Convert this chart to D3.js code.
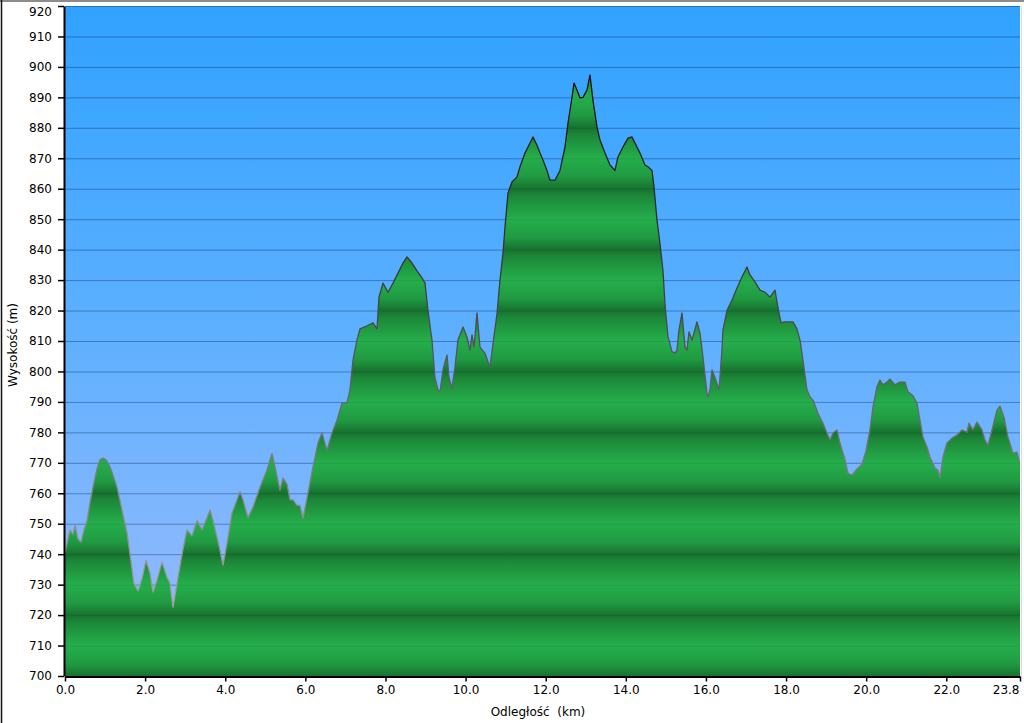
<!DOCTYPE html>
<html><head><meta charset="utf-8">
<script src="https://cdn.jsdelivr.net/npm/d3@7"></script>
<style>
body{margin:0;background:#fff;}
svg{display:block;font-family:"DejaVu Sans",Verdana,sans-serif;}
</style>
</head><body>
<svg id="c" width="1024" height="723"></svg>
<script>
// ---- data ----
const distKm = [
0,0.075,0.125,0.2,0.25,0.325,0.4,0.474,0.549,0.624,
0.699,0.799,0.874,0.949,1.023,1.123,1.198,1.298,1.423,1.548,
1.623,1.722,1.822,1.922,2.022,2.122,2.197,2.297,2.421,2.546,
2.621,2.696,2.796,2.921,3.045,3.170,3.295,3.420,3.545,3.620,
3.694,3.794,3.869,3.944,4.044,4.169,4.294,4.369,4.443,4.568,
4.693,4.868,5.042,5.167,5.242,5.367,5.442,5.542,5.617,5.692,
5.791,5.866,5.941,6.041,6.191,6.316,6.415,6.540,6.665,6.790,
6.915,7.040,7.114,7.189,7.289,7.364,7.539,7.688,7.788,7.838,
7.938,8.063,8.188,8.313,8.437,8.537,8.662,8.787,8.912,8.987,
9.061,9.161,9.236,9.311,9.361,9.436,9.536,9.586,9.661,9.735,
9.810,9.935,10.035,10.110,10.160,10.210,10.285,10.359,10.484,10.609,
10.684,10.784,10.859,10.934,10.984,11.059,11.158,11.283,11.358,11.483,
11.608,11.683,11.782,11.857,11.932,12.032,12.107,12.232,12.357,12.481,
12.556,12.656,12.706,12.781,12.856,12.931,13.030,13.105,13.180,13.280,
13.355,13.480,13.605,13.729,13.804,13.929,14.054,14.154,14.229,14.353,
14.478,14.553,14.653,14.703,14.778,14.853,14.928,14.978,15.052,15.152,
15.227,15.277,15.327,15.402,15.477,15.527,15.577,15.652,15.776,15.851,
15.926,16.026,16.051,16.101,16.151,16.226,16.276,16.326,16.400,16.425,
16.525,16.650,16.775,16.900,17.024,17.099,17.224,17.349,17.474,17.599,
17.723,17.798,17.873,17.973,18.173,18.273,18.348,18.422,18.522,18.597,
18.672,18.797,18.922,19.021,19.096,19.171,19.271,19.346,19.471,19.546,
19.646,19.770,19.895,19.995,20.095,20.170,20.270,20.345,20.419,20.519,
20.594,20.719,20.844,20.969,21.044,21.169,21.268,21.343,21.418,21.518,
21.593,21.718,21.792,21.842,21.917,22.017,22.142,22.267,22.391,22.516,
22.566,22.666,22.766,22.891,22.966,23.040,23.140,23.265,23.340,23.440,
23.540,23.665,23.765,23.840
];
const elevM = [
740.4,745,747.9,746.5,749.5,745,744,748,751,757,
762,768,771,771.6,771,768.7,766,762,754.5,747,
740,730.5,728,732,738,733.8,727.6,731.5,737.4,732.5,
730.5,722.6,730.5,740,748,746,751,748,752,754.5,
751,745.6,741.4,736.4,743.6,753.5,757.8,760.4,757.8,752,
755.5,762,767.6,773,768.7,761,765,763,757.8,757.8,
756,756,751.8,758.5,768.7,776.5,779.8,774,779.8,784,
789.6,789.6,794,803.7,810.3,814,815,816,814,824.4,
829,826,829,832.3,835.6,837.6,835.6,833,830.7,829,
820,810.3,798,794,793.3,800.5,805.4,798,794.5,801.5,
810.3,814.6,811.3,807,812,808,819.2,808,806,801.5,
809,819,830,838.9,847.4,858.6,862.2,863.9,867.2,871.7,
875,877,874.3,871.7,869.4,866,862.8,862.8,866,873.7,
881.5,890,894.7,892.4,889.8,890,892.4,897.3,889,880.3,
876,871.7,867.8,866,870.4,873.7,876.6,877,875,871.7,
867.8,867.2,866,860.6,849.7,842,833,822,811.5,806.5,
806,807,813.6,819.2,808,807,813,810.3,816.3,812.6,
804.7,793,791.3,794,800.5,798,796,794,807,813.6,
820,823.4,827.4,831,834.3,831.7,829.4,826.7,826,824.4,
826.7,821,816,816.3,816.3,814,810.3,803.7,794,791.6,
790.6,786.3,783,779.8,777.5,779.8,780.8,776.5,771,766.6,
766,768,769.5,774,781,788.3,795,797.2,795.6,796.5,
797.5,795.6,796.5,796.5,793.3,792,789.6,784,778.5,775.2,
771.9,768.3,767.6,765.3,771.9,776.5,778.1,779.1,780.8,780,
783,780.8,783.4,780.8,777.5,775.8,780.8,787.3,788.6,785,
778.5,773.2,773.5,770
];
const xTickValues = [0,2,4,6,8,10,12,14,16,18,20,22,23.84];
const xTickLabels = ["0.0","2.0","4.0","6.0","8.0","10.0","12.0","14.0","16.0","18.0","20.0","22.0","23.8"];
const yTickValues = [700,710,720,730,740,750,760,770,780,790,800,810,820,830,840,850,860,870,880,890,900,910,920];
const xAxisTitle = "Odległość  (km)";
const yAxisTitle = "Wysokość (m)";

// ---- layout ----
const L = 65, R = 1020, T = 6, B = 676;
const svg = d3.select("#c");
const x = d3.scaleLinear().domain([0, 23.84]).range([L, R]);
const y = d3.scaleLinear().domain([700, 920]).range([B, T]);
const data = distKm.map((k, i) => ({k, e: elevM[i]}));

const defs = svg.append("defs");
const bg = defs.append("linearGradient").attr("id","bg")
  .attr("gradientUnits","userSpaceOnUse").attr("x1",0).attr("x2",0).attr("y1",T).attr("y2",B);
bg.append("stop").attr("offset",0).attr("stop-color","#30a2ff");
bg.append("stop").attr("offset",0.5).attr("stop-color","#5fb0ff");
bg.append("stop").attr("offset",1).attr("stop-color","#9ebcfd");

const band = defs.append("linearGradient").attr("id","band")
  .attr("gradientUnits","userSpaceOnUse").attr("spreadMethod","repeat")
  .attr("x1",0).attr("x2",0).attr("y1",y(720)).attr("y2",y(700));
band.append("stop").attr("offset",0).attr("stop-color","#17722f");
band.append("stop").attr("offset",0.12).attr("stop-color","#1c8838");
band.append("stop").attr("offset",0.5).attr("stop-color","#25ae4c");
band.append("stop").attr("offset",0.8).attr("stop-color","#209a42");
band.append("stop").attr("offset",1).attr("stop-color","#17722f");

const sg = defs.append("linearGradient").attr("id","sg")
  .attr("gradientUnits","userSpaceOnUse").attr("x1",0).attr("x2",0).attr("y1",T).attr("y2",B);
sg.append("stop").attr("offset",0).attr("stop-color","#000");
sg.append("stop").attr("offset",0.4).attr("stop-color","#3a3a3a");
sg.append("stop").attr("offset",0.75).attr("stop-color","#8a8a8a");
sg.append("stop").attr("offset",1).attr("stop-color","#b0b0b0");

defs.append("clipPath").attr("id","clip").append("rect")
  .attr("x",L).attr("y",T).attr("width",R-L).attr("height",B-T);

// frame
svg.append("line").attr("x1",0).attr("x2",1024).attr("y1",1).attr("y2",1)
  .attr("stroke","#8c8c8c").attr("stroke-width",2);
svg.append("line").attr("x1",1.5).attr("x2",1.5).attr("y1",0).attr("y2",723)
  .attr("stroke","#111").attr("stroke-width",1.5);
svg.append("line").attr("x1",1021.5).attr("x2",1021.5).attr("y1",6).attr("y2",676)
  .attr("stroke","#ddd").attr("stroke-width",1);

// background
svg.append("rect").attr("x",L).attr("y",T).attr("width",R-L).attr("height",B-T).attr("fill","url(#bg)");

const g = svg.append("g").attr("clip-path","url(#clip)");
g.selectAll("line.grid").data(yTickValues).join("line").attr("class","grid")
  .attr("x1",L).attr("x2",R).attr("y1",d=>y(d)+0.5).attr("y2",d=>y(d)+0.5)
  .attr("stroke","#0d2f6a").attr("stroke-opacity",0.32).attr("stroke-width",1);

const area = d3.area().x(d=>x(d.k)).y0(y(700)).y1(d=>y(d.e));
const line = d3.line().x(d=>x(d.k)).y(d=>y(d.e));
g.append("path").datum(data).attr("d",area).attr("fill","url(#band)");
g.selectAll("line.grid2").data(yTickValues).join("line").attr("class","grid2")
  .attr("x1",L).attr("x2",R).attr("y1",d=>y(d)+0.5).attr("y2",d=>y(d)+0.5)
  .attr("stroke","#000").attr("stroke-opacity",0.08).attr("stroke-width",1);
g.append("path").datum(data).attr("d",line).attr("fill","none")
  .attr("stroke","url(#sg)").attr("stroke-width",1.3).attr("stroke-linejoin","round");

// axes
const yAxis = svg.append("g").attr("transform",`translate(${L-1},0)`)
  .call(d3.axisLeft(y).tickValues(yTickValues).tickFormat(d3.format("d")).tickSize(6).tickSizeOuter(0).tickPadding(6));
const xAxis = svg.append("g").attr("transform",`translate(0,${B+0.5})`)
  .call(d3.axisBottom(x).tickValues(xTickValues).tickFormat((d,i)=>xTickLabels[i]).tickSize(5).tickSizeOuter(0).tickPadding(4));
[yAxis, xAxis].forEach(a=>{
  a.select(".domain").attr("stroke","#000").attr("stroke-width",2);
  a.selectAll(".tick line").attr("stroke","#000").attr("stroke-width",1.5);
  a.selectAll(".tick text").attr("fill","#000").attr("font-size","12px").attr("font-family","DejaVu Sans, Verdana, sans-serif");
});
yAxis.selectAll(".tick text").filter(d=>d===920).attr("dy","0.8em");
xAxis.selectAll(".tick text").filter(d=>d===23.84).attr("text-anchor","end").attr("x",-1);

// titles
svg.append("text").attr("x",538).attr("y",716).attr("text-anchor","middle")
  .attr("font-size","12px").attr("fill","#000").style("white-space","pre").text(xAxisTitle);
svg.append("text").attr("transform","translate(17,345) rotate(-90)").attr("text-anchor","middle")
  .attr("font-size","12px").attr("fill","#000").text(yAxisTitle);
</script>
</body></html>
